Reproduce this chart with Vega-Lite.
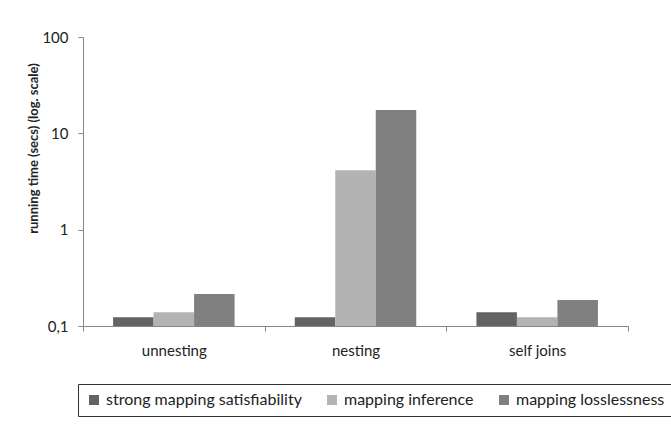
{
  "$schema": "https://vega.github.io/schema/vega-lite/v6.json",
  "autosize": "none",
  "width": 545,
  "height": 289,
  "padding": {"left": 83, "top": 37, "right": 43, "bottom": 111},
  "background": "white",
  "data": {
    "values": [
      {"task": "unnesting", "measure": "strong mapping satisfiability", "time": 0.123},
      {"task": "unnesting", "measure": "mapping inference", "time": 0.139},
      {"task": "unnesting", "measure": "mapping losslessness", "time": 0.215},
      {"task": "nesting", "measure": "strong mapping satisfiability", "time": 0.123},
      {"task": "nesting", "measure": "mapping inference", "time": 4.15},
      {"task": "nesting", "measure": "mapping losslessness", "time": 17.5},
      {"task": "self joins", "measure": "strong mapping satisfiability", "time": 0.139},
      {"task": "self joins", "measure": "mapping inference", "time": 0.123},
      {"task": "self joins", "measure": "mapping losslessness", "time": 0.186}
    ]
  },
  "mark": {"type": "bar"},
  "encoding": {
    "x": {
      "field": "task",
      "type": "nominal",
      "sort": ["unnesting", "nesting", "self joins"],
      "scale": {"paddingInner": 0, "paddingOuter": 0},
      "axis": {
        "title": null,
        "labelAngle": 0,
        "tickBand": "extent",
        "tickSize": 5,
        "labelPadding": 12,
        "labelFontSize": 15,
        "labelFont": "Lato",
        "labelColor": "#222222",
        "domainColor": "#868686",
        "tickColor": "#868686"
      }
    },
    "xOffset": {
      "field": "measure",
      "type": "nominal",
      "sort": ["strong mapping satisfiability", "mapping inference", "mapping losslessness"],
      "scale": {"paddingInner": 0, "paddingOuter": 0.743}
    },
    "y": {
      "field": "time",
      "type": "quantitative",
      "stack": null,
      "scale": {"type": "log", "domain": [0.1, 100], "nice": false},
      "axis": {
        "values": [0.1, 1, 10, 100],
        "labelExpr": "datum.value < 0.5 ? '0,1' : format(datum.value, 'd')",
        "grid": false,
        "tickSize": 5,
        "labelPadding": 10,
        "labelFontSize": 15,
        "labelFont": "Lato",
        "labelColor": "#222222",
        "domainColor": "#868686",
        "tickColor": "#868686",
        "title": "running time (secs) (log. scale)",
        "titleFont": "Lato",
        "titleFontSize": 13,
        "titleFontWeight": "bold",
        "titleColor": "#222222",
        "titleAngle": -90,
        "titleX": -50,
        "titleY": 111,
        "titleAlign": "center",
        "titleBaseline": "middle"
      }
    },
    "color": {
      "field": "measure",
      "type": "nominal",
      "scale": {
        "domain": ["strong mapping satisfiability", "mapping inference", "mapping losslessness"],
        "range": ["#636363", "#b3b3b3", "#808080"]
      },
      "legend": {
        "title": null,
        "orient": "none",
        "direction": "horizontal",
        "legendX": -5,
        "legendY": 347,
        "strokeColor": "#333333",
        "padding": 8,
        "symbolType": "square",
        "symbolSize": 100,
        "symbolStrokeWidth": 0,
        "labelFont": "Lato",
        "labelFontSize": 16,
        "labelLimit": 0,
        "labelColor": "#222222",
        "columnPadding": 22,
        "labelOffset": 4
      }
    }
  },
  "config": {"view": {"stroke": null}}
}
